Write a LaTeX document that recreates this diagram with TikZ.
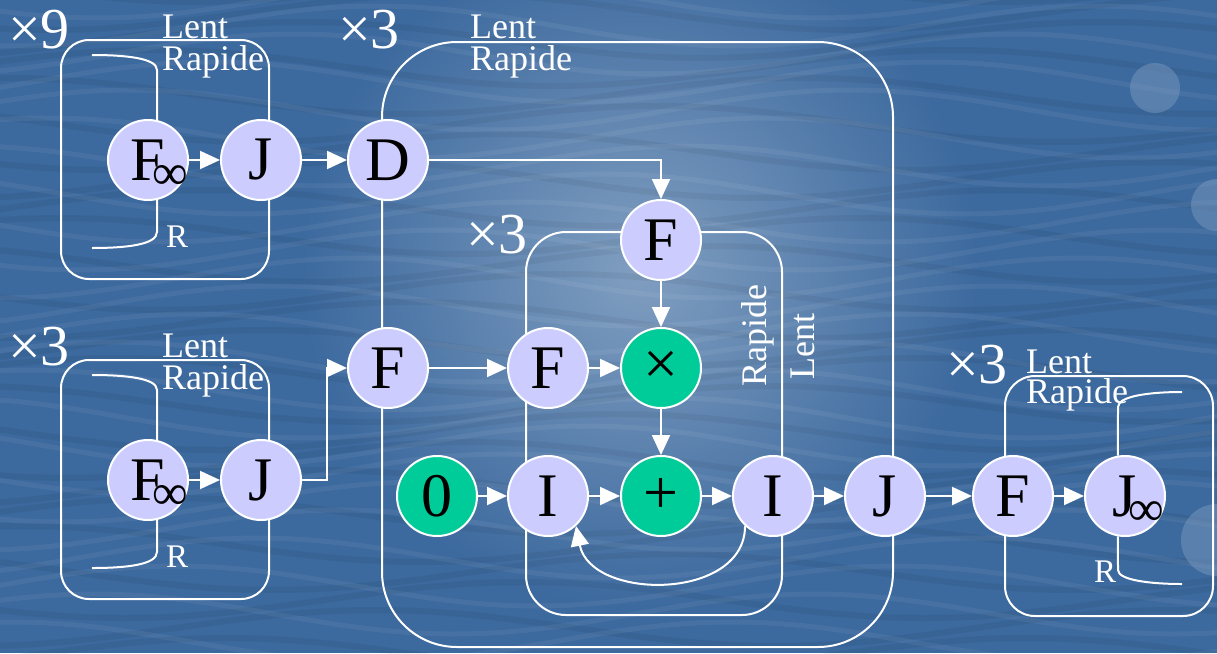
\documentclass[tikz,border=0pt]{standalone}
\usepackage{fontspec}
\setmainfont{Liberation Serif}
\usetikzlibrary{arrows.meta}
\definecolor{bgblue}{RGB}{60,105,158}
\definecolor{bglight}{RGB}{128,158,192}
\definecolor{nodefill}{RGB}{204,204,255}
\definecolor{opfill}{RGB}{0,204,153}
\newcommand{\infA}{\rlap{\smash{\hspace{-13pt}\raisebox{-9pt}{\fontsize{50}{50}\selectfont ∞}}}}
\newcommand{\infB}{\rlap{\smash{\hspace{-9pt}\raisebox{-9pt}{\fontsize{50}{50}\selectfont ∞}}}}
\begin{document}
\begin{tikzpicture}[x=1pt,y=-1pt,
  blk/.style={circle, draw=white, line width=2pt, fill=nodefill, minimum size=80pt, inner sep=0pt, font=\fontsize{62}{62}\selectfont},
  op/.style={blk, fill=opfill},
  frame/.style={draw=white, line width=2pt},
  arr/.style={draw=white, line width=2pt, -{Triangle[length=20pt,width=18pt]}},
  lbl/.style={text=white, inner sep=0pt, anchor=base west, font=\fontsize{36}{36}\selectfont},
  rep/.style={text=white, inner sep=0pt, anchor=base west, font=\fontsize{58}{58}\selectfont},
  rlbl/.style={text=white, inner sep=0pt, anchor=base west, font=\fontsize{33}{33}\selectfont},
]
\useasboundingbox (0,0) rectangle (1217,653);
% background
\fill[bgblue] (0,0) rectangle (1217,653);
\begin{scope}
\clip (0,0) rectangle (1217,653);
\shade[inner color=bglight, outer color=bgblue] (640,270) circle (340);
\foreach \k in {0,...,24}{
  \draw[white, opacity=0.06, line width=5pt] plot[domain=-20:1240, samples=60, smooth] (\x, {\k*28 - 30 + 20*sin(0.5*\x + 41*\k)});
  \draw[black, opacity=0.05, line width=6pt] plot[domain=-20:1240, samples=60, smooth] (\x, {\k*28 - 16 + 18*sin(0.45*\x + 67*\k)});
}
\fill[bglight, opacity=0.45] (1155,88) circle (25);
\fill[bglight, opacity=0.45] (1217,205) circle (26);
\fill[bglight, opacity=0.45] (1217,540) circle (36);
\end{scope}

% frames
\draw[frame, rounded corners=28pt] (61,40) rectangle (269,279);
\draw[frame, rounded corners=28pt] (61,360) rectangle (269,599);
\draw[frame, rounded corners=75pt] (382,42) rectangle (893,647);
\draw[frame, rounded corners=40pt] (526,232) rectangle (782,615);
\draw[frame, rounded corners=30pt] (1005,376) rectangle (1213,616);

% nodes
\node[blk] (F1) at (148,160) {F\infA};
\node[blk] (J1) at (261,160) {J};
\node[blk] (D) at (388,160) {D};
\node[blk] (F2) at (148,480) {F\infA};
\node[blk] (J2) at (261,480) {J};
\node[blk] (F4) at (388,368) {F};
\node[blk] (F3) at (661,240) {F};
\node[blk] (F5) at (548,368) {F};
\node[op] (M) at (661,368) {×};
\node[op] (Z) at (437,496) {0};
\node[blk] (I1) at (548,496) {I};
\node[op] (P) at (661,496) {+};
\node[blk] (I2) at (773,496) {I};
\node[blk] (J3) at (885,496) {J};
\node[blk] (F6) at (1013,496) {F};
\node[blk] (J4) at (1125,496) {J\infB};

% brackets
\draw[frame] (F1.77) -- (157,70) .. controls (157,58) and (125,55) .. (92,55);
\draw[frame] (F1.-77) -- (157,232) .. controls (157,245) and (125,248) .. (92,248);
\draw[frame] (F2.77) -- (157,390) .. controls (157,378) and (125,375) .. (92,375);
\draw[frame] (F2.-77) -- (157,552) .. controls (157,565) and (125,568) .. (92,568);
\draw[frame] (J4.100) -- (1118,407) .. controls (1118,396) and (1150,392) .. (1182,392);
\draw[frame] (J4.-100) -- (1118,570) .. controls (1118,580) and (1150,584) .. (1182,584);

% connectors
\draw[arr] (F1) -- (J1);
\draw[arr] (J1) -- (D);
\draw[arr] (F2) -- (J2);
\draw[arr] (J2.east) -- ++(25,0) |- (F4.west);
\draw[arr] (D.east) -| (F3.north);
\draw[arr] (F4) -- (F5);
\draw[arr] (F5) -- (M);
\draw[arr] (F3) -- (M);
\draw[arr] (M) -- (P);
\draw[arr] (Z) -- (I1);
\draw[arr] (I1) -- (P);
\draw[arr] (P) -- (I2);
\draw[arr] (I2) -- (J3);
\draw[arr] (J3) -- (F6);
\draw[arr] (F6) -- (J4);
\draw[arr] (I2.227) .. controls +(0,75) and +(15,75) .. (I1.313);

% labels
\node[rep] (r1) at (8,48) {×9};
\node[rep] (r2) at (8,365) {×3};
\node[rep] (r3) at (338,48) {×3};
\node[rep] (r4) at (466,253) {×3};
\node[rep] (r5) at (946,383) {×3};
\node[lbl] (l1) at (162,38) {Lent};
\node[lbl] (q1) at (162,70) {Rapide};
\node[lbl] (l2) at (162,357) {Lent};
\node[lbl] (q2) at (162,389) {Rapide};
\node[lbl] (l3) at (470,38) {Lent};
\node[lbl] (q3) at (470,70) {Rapide};
\node[lbl] (l5) at (1026,373) {Lent};
\node[lbl] (q5) at (1026,403) {Rapide};
\node[lbl, rotate=90] (q4) at (766,387) {Rapide};
\node[lbl, rotate=90] (l4) at (814,380) {Lent};
\node[rlbl] (R1) at (166,247) {R};
\node[rlbl] (R2) at (166,567) {R};
\node[rlbl] (R3) at (1094,582) {R};
\end{tikzpicture}
\end{document}
